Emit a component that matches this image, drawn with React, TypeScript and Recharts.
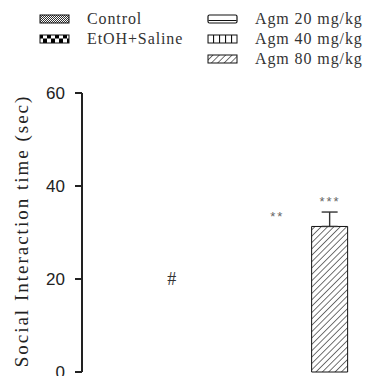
import React from 'react';
import { BarChart, Bar, XAxis, YAxis, ErrorBar, Cell, ReferenceDot, Label } from 'recharts';

const groups = ['Control', 'EtOH+Saline', 'Agm 20 mg/kg', 'Agm 40 mg/kg', 'Agm 80 mg/kg'];
const means: (number | null)[] = [null, null, null, null, 31.3];
const errUp: (number | null)[] = [null, null, null, null, 3.1];
const yTicks = [0, 20, 40, 60];
const annotGroups = ['EtOH+Saline', 'Agm 40 mg/kg', 'Agm 80 mg/kg'];
const annotLabels = ['#', '**', '***'];
const annotValues = [20, 34.4, 37.6];
const legendCol = [0, 0, 1, 1, 1];
const legendRow = [0, 1, 0, 1, 2];
const patternIds = ['pControl', 'pEtoh', 'pAgm20', 'pAgm40', 'pAgm80'];

const data = groups.map((g, i) => ({
  group: g,
  mean: means[i],
  err: errUp[i] == null ? null : [0, errUp[i]],
}));

const serif = '"Liberation Serif", "Times New Roman", serif';
const sans = '"Liberation Sans", Arial, sans-serif';

function PatternDefs({ prefix }: { prefix: string }) {
  return (
    <defs>
      <pattern id={prefix + 'pControl'} patternUnits="userSpaceOnUse" width={2} height={2}>
        <rect width={2} height={2} fill="#fff" />
        <rect x={0} y={0} width={1} height={1} fill="#333" />
        <rect x={1} y={1} width={1} height={1} fill="#333" />
      </pattern>
      <pattern id={prefix + 'pEtoh'} patternUnits="userSpaceOnUse" width={8} height={9}>
        <rect width={8} height={9} fill="#fff" />
        <rect x={0} y={0} width={4} height={4.5} fill="#000" />
        <rect x={4} y={4.5} width={4} height={4.5} fill="#000" />
      </pattern>
      <pattern id={prefix + 'pAgm40'} patternUnits="userSpaceOnUse" width={6} height={10}>
        <rect width={6} height={10} fill="#fff" />
        <line x1={0.5} y1={0} x2={0.5} y2={10} stroke="#111" strokeWidth={1.2} />
      </pattern>
      <pattern id={prefix + 'pAgm80'} patternUnits="userSpaceOnUse" width={4.5} height={4.5} patternTransform="rotate(45)">
        <rect width={4.5} height={4.5} fill="#fff" />
        <line x1={0} y1={0} x2={0} y2={4.5} stroke="#444" strokeWidth={1.5} />
      </pattern>
    </defs>
  );
}

function Swatch({ idx }: { idx: number }) {
  const p = 'lg' + idx;
  let inner: React.ReactNode;
  if (idx === 2) {
    inner = (
      <g>
        <rect x={1} y={1} width={29} height={8} rx={1.5} fill="#fff" stroke="#111" strokeWidth={1.2} />
        <line x1={1.5} y1={6.5} x2={29.5} y2={6.5} stroke="#111" strokeWidth={1} />
      </g>
    );
  } else {
    inner = <rect x={1} y={1} width={29} height={8} fill={`url(#${p}${patternIds[idx]})`} stroke="#111" strokeWidth={1} />;
  }
  return (
    <svg width={31} height={10} style={{ display: 'block' }}>
      <PatternDefs prefix={p} />
      {inner}
    </svg>
  );
}

function Legend() {
  return (
    <>
      {groups.map((g, i) => {
        const left = legendCol[i] === 0 ? 39 : 207;
        const top = 19 + legendRow[i] * 20;
        return (
          <div key={g} style={{ position: 'absolute', left, top: top - 10, height: 20, display: 'flex', alignItems: 'center' }}>
            <Swatch idx={i} />
            <span style={{ marginLeft: 17, fontFamily: serif, fontSize: 16, letterSpacing: 0.9, color: '#333', whiteSpace: 'nowrap' }}>{g}</span>
          </div>
        );
      })}
    </>
  );
}

export default function App() {
  return (
    <div style={{ position: 'absolute', left: 0, top: 0, width: 367, height: 376, background: '#fff' }}>
      <BarChart width={367} height={376} data={data} margin={{ top: 93, right: 2, bottom: 4, left: 0 }} barSize={36}>
        <PatternDefs prefix="ch" />
        <XAxis
          dataKey="group"
          tick={false}
          tickLine={false}
          height={0}
          axisLine={{ stroke: '#222', strokeWidth: 2 }}
          padding={{ left: 10.6, right: 8.6 }}
        />
        <YAxis
          domain={[0, 60]}
          ticks={yTicks}
          interval={0}
          width={82}
          tickSize={7}
          tickMargin={10}
          axisLine={{ stroke: '#222', strokeWidth: 2 }}
          tickLine={{ stroke: '#222', strokeWidth: 2 }}
          tick={{ fill: '#222', fontSize: 17, fontFamily: sans }}
        >
          <Label
            content={() => (
              <text
                x={28}
                y={231}
                transform="rotate(-90 28 231)"
                textAnchor="middle"
                fontFamily={serif}
                fontSize={19}
                letterSpacing={2}
                fill="#222"
              >
                Social Interaction time (sec)
              </text>
            )}
          />
        </YAxis>
        <Bar dataKey="mean" stroke="#111" strokeWidth={1} isAnimationActive={false}>
          {data.map((d, i) => (
            <Cell key={d.group} fill={`url(#ch${patternIds[i]})`} />
          ))}
          <ErrorBar dataKey="err" width={8} stroke="#333" strokeWidth={1.4} isAnimationActive={false} />
        </Bar>
        {annotGroups.map((g, i) => (
          <ReferenceDot
            key={g}
            x={g}
            y={annotValues[i]}
            r={1}
            fill="none"
            stroke="none"
            label={{
              value: annotLabels[i],
              position: 'center',
              fill: i === 0 ? '#333' : '#666',
              fontSize: i === 0 ? 18 : 13,
              fontFamily: i === 0 ? serif : sans,
              letterSpacing: i === 0 ? 0 : 2,
              dy: i === 0 ? 0 : 4,
            }}
          />
        ))}
      </BarChart>
      <Legend />
    </div>
  );
}
